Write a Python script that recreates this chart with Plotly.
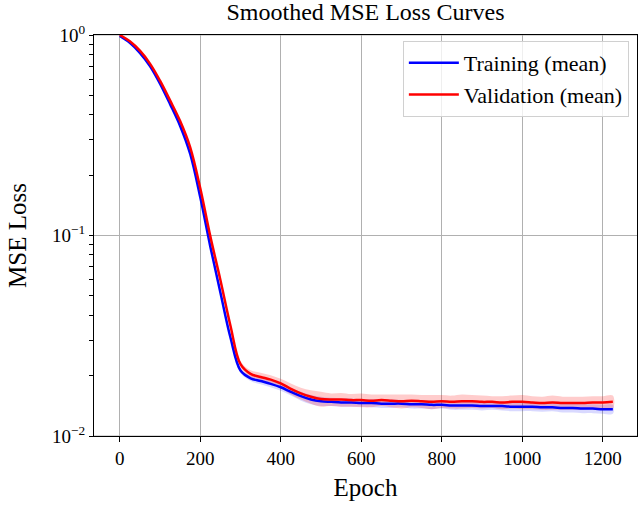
import plotly.graph_objects as go

# epochs sampled every 25
epochs = list(range(0, 1226, 25))

train_mean = [
    0.990, 0.915, 0.815, 0.700, 0.572, 0.452, 0.352, 0.255, 0.155, 0.088,
    0.052, 0.031, 0.0212, 0.0194, 0.0188, 0.0182, 0.0175, 0.0166, 0.0158, 0.0152,
    0.0149, 0.0148, 0.0147, 0.0147, 0.0146, 0.0146, 0.0145, 0.0145, 0.0145, 0.0144,
    0.0144, 0.0143, 0.0143, 0.0142, 0.0142, 0.0142, 0.0141, 0.0141, 0.0141, 0.0140,
    0.0140, 0.0140, 0.0139, 0.0139, 0.0138, 0.0138, 0.0137, 0.0137, 0.0136, 0.0136,
]
val_mean = [
    1.000, 0.930, 0.835, 0.720, 0.592, 0.472, 0.372, 0.275, 0.172, 0.099,
    0.060, 0.0355, 0.0228, 0.0204, 0.0197, 0.0191, 0.0183, 0.0172, 0.0163, 0.0157,
    0.0153, 0.0152, 0.0152, 0.0151, 0.0151, 0.0150, 0.0151, 0.0150, 0.0149, 0.0150,
    0.0149, 0.0148, 0.0149, 0.0148, 0.0149, 0.0149, 0.0148, 0.0148, 0.0147, 0.0148,
    0.0148, 0.0147, 0.0146, 0.0147, 0.0146, 0.0146, 0.0146, 0.0147, 0.0147, 0.0148,
]
train_std = [
    0.006, 0.006, 0.005, 0.005, 0.004, 0.004, 0.003, 0.003, 0.002, 0.0012,
    0.0008, 0.0006, 0.0006, 0.0006, 0.0007, 0.0007, 0.0007, 0.0007, 0.0008, 0.0008,
    0.0008, 0.0007, 0.0007, 0.0007, 0.0006, 0.0007, 0.0007, 0.0007, 0.0006, 0.0007,
    0.0007, 0.0007, 0.0006, 0.0007, 0.0007, 0.0007, 0.0007, 0.0006, 0.0007, 0.0007,
    0.0007, 0.0007, 0.0007, 0.0006, 0.0007, 0.0007, 0.0007, 0.0007, 0.0007, 0.0007,
]
val_std = [
    0.008, 0.008, 0.007, 0.006, 0.005, 0.005, 0.004, 0.003, 0.002, 0.0014,
    0.0010, 0.0009, 0.0008, 0.0009, 0.0010, 0.0010, 0.0010, 0.0011, 0.0011, 0.0012,
    0.0013, 0.0011, 0.0012, 0.0011, 0.0012, 0.0011, 0.0010, 0.0011, 0.0012, 0.0011,
    0.0011, 0.0012, 0.0011, 0.0011, 0.0012, 0.0011, 0.0011, 0.0010, 0.0011, 0.0011,
    0.0012, 0.0011, 0.0011, 0.0012, 0.0011, 0.0011, 0.0011, 0.0011, 0.0011, 0.0011,
]

x_ticks = [0, 200, 400, 600, 800, 1000, 1200]
y_ticks = [0.01, 0.1, 1]
y_tick_text = ['10<sup>−2</sup>', '10<sup>−1</sup>', '10<sup>0</sup>']
y_minor = [m * d for d in (0.01, 0.1) for m in range(2, 10)]

FONT = 'Liberation Serif, Times New Roman, serif'


def band(fig, mean, std, color):
    upper = [m + s for m, s in zip(mean, std)]
    lower = [m - s for m, s in zip(mean, std)]
    fig.add_trace(
        go.Scatter(
            x=epochs + epochs[::-1],
            y=upper + lower[::-1],
            fill='toself',
            fillcolor=color,
            line=dict(width=0, shape='spline'),
            mode='lines',
            showlegend=False,
            hoverinfo='skip'
        )
    )


fig = go.Figure()

band(fig, train_mean, train_std, 'rgba(0, 0, 255, 0.15)')
band(fig, val_mean, val_std, 'rgba(255, 0, 0, 0.2)')

fig.add_trace(
    go.Scatter(
        x=epochs, y=train_mean, mode='lines', name='Training (mean)',
        line=dict(color='blue', width=2.5, shape='spline')
    )
)
fig.add_trace(
    go.Scatter(
        x=epochs, y=val_mean, mode='lines', name='Validation (mean)',
        line=dict(color='red', width=2.5, shape='spline')
    )
)

# horizontal grid only at the decades (minor ticks carry no grid)
for yv in y_ticks:
    fig.add_hline(y=yv, line=dict(color='#b0b0b0', width=1), layer='below')

fig.update_layout(
    width=639,
    height=505,
    template='plotly_white',
    plot_bgcolor='white',
    font=dict(family=FONT, size=19, color='black'),
    margin=dict(l=94, r=2, t=35, b=69),
    title=dict(
        text='Smoothed MSE Loss Curves',
        font=dict(family=FONT, size=24, color='black'),
        x=0.572, xanchor='center', y=0.977, yanchor='middle'
    ),
    showlegend=True,
    legend=dict(
        x=0.985, y=0.985, xanchor='right', yanchor='top',
        bgcolor='rgba(255,255,255,0.8)',
        bordercolor='#d0d0d0', borderwidth=1,
        font=dict(family=FONT, size=22, color='black'),
        itemwidth=50,
        tracegroupgap=2
    ),
    xaxis=dict(
        range=[-64, 1285],
        tickvals=x_ticks,
        automargin=False,
        showgrid=True, gridcolor='#b0b0b0', gridwidth=1,
        zeroline=False,
        showline=True, linecolor='black', linewidth=1.2, mirror=True,
        ticks='outside', ticklen=5, tickwidth=1.2, tickcolor='black',
        title=dict(text='Epoch', font=dict(family=FONT, size=25), standoff=10)
    ),
    yaxis=dict(
        type='log',
        range=[-2, 0],
        tickvals=y_ticks + y_minor,
        ticktext=y_tick_text + [''] * len(y_minor),
        automargin=False,
        showgrid=False,
        zeroline=False,
        showline=True, linecolor='black', linewidth=1.2, mirror=True,
        ticks='outside', ticklen=4, tickwidth=1.1, tickcolor='black',
        title=dict(text='MSE Loss', font=dict(family=FONT, size=25), standoff=18)
    )
)

fig.write_html(
    'out.html',
    config={'displayModeBar': False},
    post_script="document.body.style.margin='0';"
)
